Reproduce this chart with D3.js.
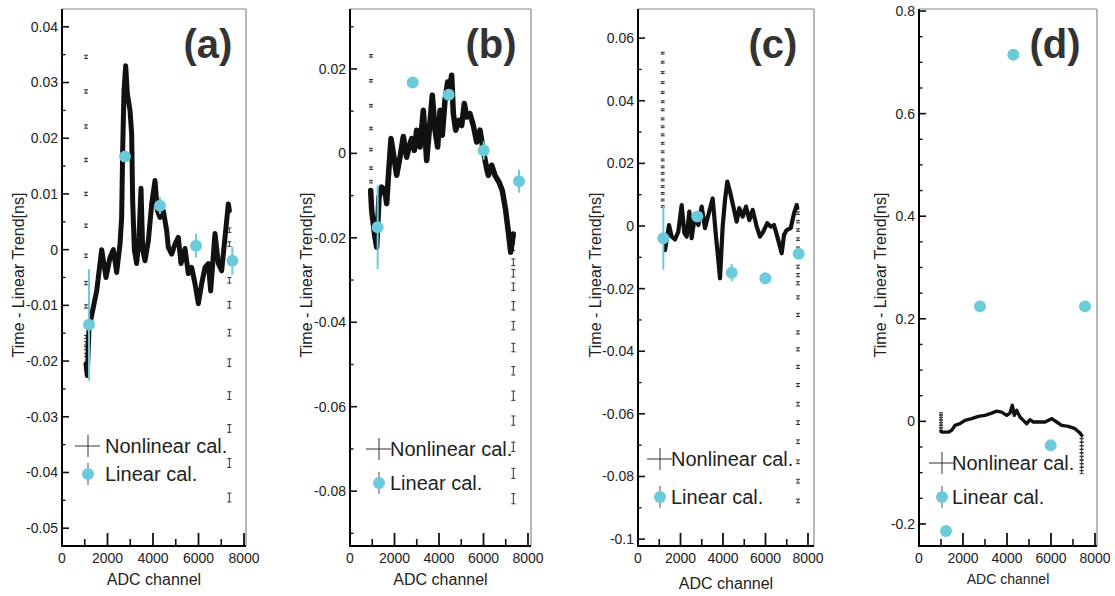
<!DOCTYPE html>
<html>
<head>
<meta charset="utf-8">
<script src="https://cdn.jsdelivr.net/npm/d3@7"></script>
<style>
  body { margin: 0; background: #fff; }
  svg { display: block; font-family: "Liberation Sans", Arial, sans-serif; }
</style>
</head>
<body>
<svg width="1115" height="596"></svg>
<script>
// ---- data: [ADC channel, time - linear trend (ns)] ----
const nonlinA = [[1055,-0.0205],[1110,-0.0226],[1187,-0.0140],[1230,-0.0133],[1525,-0.0074],[1745,0.0],[1934,-0.005],[2110,-0.0014],
  [2256,0.0],[2403,-0.0041],[2550,0.001],[2622,0.0058],[2667,0.0178],[2725,0.0285],[2799,0.033],[2872,0.028],[2989,0.025],
  [3062,0.0208],[3106,0.0088],[3180,0.0],[3282,-0.0025],[3385,0.0022],[3473,0.011],[3546,0.0],[3648,-0.002],[3795,0.0016],
  [3942,0.0082],[4088,0.0124],[4190,0.007],[4308,0.0058],[4454,0.007],[4601,0.0034],[4674,0.0004],[4821,-0.0008],[4967,0.001],
  [5114,0.0022],[5231,-0.0025],[5407,0.0002],[5553,-0.0043],[5700,-0.0032],[5846,-0.0061],[5993,-0.0097],[6140,-0.0061],
  [6286,-0.0032],[6432,-0.0025],[6535,-0.0074],[6725,0.0029],[6871,-0.0025],[7018,-0.0038],[7165,0.0022],[7311,0.0082],[7355,0.007]];
const nonlinB = [[929,-0.0088],[974,-0.0135],[1124,-0.0199],[1198,-0.0222],[1303,-0.0104],[1423,-0.008],[1573,-0.0088],[1648,-0.0119],
  [1723,-0.0056],[1843,0.0035],[1948,0.0],[2097,-0.0052],[2247,-0.0009],[2397,0.004],[2547,-0.0009],[2652,0.0015],[2772,0.0035],
  [2891,0.0007],[2996,0.0055],[3146,0.0015],[3296,0.0102],[3446,-0.0017],[3551,0.0047],[3700,0.0138],[3820,0.0055],[3940,0.0015],
  [4045,0.0102],[4149,0.0043],[4270,0.0126],[4390,0.0169],[4464,0.015],[4569,0.0185],[4644,0.0094],[4750,0.0055],[4899,0.0078],
  [5019,0.0066],[5138,0.0118],[5243,0.0086],[5393,0.0094],[5543,0.0066],[5693,0.0027],[5843,0.0055],[5991,0.0007],[6142,-0.0036],
  [6217,-0.0052],[6367,-0.0028],[6517,-0.0052],[6697,-0.0068],[6845,-0.0088],[6997,-0.0135],[7146,-0.0199],[7222,-0.0234],[7340,-0.0191]];
const nonlinC = [[1271,-0.0077],[1349,-0.0045],[1459,0.0003],[1584,-0.0034],[1741,-0.0043],[1898,-0.0018],[2055,0.0067],[2180,-0.0023],
  [2290,-0.0034],[2415,0.0046],[2525,-0.0039],[2682,0.0035],[2839,0.0003],[2996,0.0062],[3153,-0.0007],[3310,0.0035],[3514,0.0088],
  [3671,-0.0034],[3780,-0.0109],[3859,-0.0167],[3984,-0.0002],[4094,0.0083],[4202,0.0142],[4329,0.011],[4486,0.0062],[4643,0.0014],
  [4767,0.0057],[4927,0.003],[5082,0.0062],[5238,0.0019],[5398,0.0051],[5586,-0.0002],[5741,-0.0034],[5896,-0.0018],[6084,0.0009],
  [6244,-0.0002],[6400,0.0003],[6555,-0.0034],[6762,-0.0087],[6871,-0.0029],[6997,-0.0013],[7185,-0.0007],[7341,0.004],[7467,0.0067],[7497,0.0057]];
const nonlinD = [[1000,-0.02],[1061,-0.021],[1333,-0.021],[1485,-0.0175],[1636,-0.0078],[1864,-0.0045],[2091,0.002],[2394,0.0052],
  [2697,0.0097],[3000,0.0117],[3303,0.0162],[3530,0.02],[3757,0.018],[3985,0.0117],[4136,0.0162],[4242,0.0312],[4333,0.0117],
  [4439,0.0214],[4591,0.0084],[4742,0.002],[4894,-0.0045],[5045,0.0033],[5197,-0.0013],[5424,-0.0013],[5727,-0.0013],[6030,0.0052],
  [6258,-0.0013],[6485,-0.0078],[6788,-0.0097],[7091,-0.0143],[7318,-0.0227],[7394,-0.0273]];

// nonlinear points at the ends of the range: [ADC, value, error]
const edgeA = [[1055,0.0346,0.0003],[1055,0.0284,0.0003],[1055,0.0221,0.0003],[1055,0.0161,0.0003],[1055,0.0100,0.0003],
  [1055,0.0043,0.0003],[1055,-0.0011,0.0003],[1055,-0.0060,0.0003],[1055,-0.0102,0.0003],[1055,-0.0157,0.0003],[1055,-0.0168,0.0003],
  [1055,-0.0177,0.0003],[1055,-0.0189,0.0003],
  [7355,0.0035,0.0004],[7355,0.001,0.0004],[7355,-0.0055,0.0005],[7355,-0.0099,0.0006],[7355,-0.0149,0.0006],[7355,-0.0203,0.0007],
  [7355,-0.0262,0.0007],[7355,-0.0321,0.0007],[7355,-0.0383,0.0008],[7355,-0.0445,0.0008]];
const edgeB = [[944,0.0231,0.0003],[944,0.0172,0.0003],[944,0.0113,0.0003],[944,0.0059,0.0003],[944,0.0009,0.0003],[944,-0.0035,0.0003],
  [944,-0.0067,0.0003],[944,-0.0092,0.0003],
  [7340,-0.0222,0.0008],[7340,-0.0258,0.0008],[7340,-0.0284,0.0009],[7340,-0.0316,0.0009],[7340,-0.0361,0.001],[7340,-0.0408,0.001],
  [7340,-0.046,0.001],[7340,-0.0515,0.001],[7340,-0.0574,0.0011],[7340,-0.0633,0.0011],[7340,-0.0695,0.0011],[7340,-0.0758,0.0012],[7340,-0.0818,0.0012]];
const edgeC = [[1161,0.0552,0.0003],[1161,0.0523,0.0003],[1161,0.049,0.0003],[1161,0.0458,0.0003],[1161,0.0426,0.0003],[1161,0.0397,0.0003],
  [1161,0.0371,0.0003],[1161,0.0342,0.0003],[1161,0.0317,0.0003],[1161,0.0291,0.0003],[1161,0.0264,0.0003],[1161,0.0237,0.0003],
  [1161,0.0211,0.0003],[1161,0.0189,0.0003],[1161,0.0168,0.0003],[1161,0.0147,0.0003],[1161,0.0126,0.0003],[1161,0.0104,0.0003],
  [1161,0.0083,0.0003],[1161,0.0062,0.0003],
  [7529,0.0041,0.0004],[7529,0.0014,0.0004],[7529,-0.0013,0.0004],[7529,-0.0042,0.0004],[7529,-0.0071,0.0004],[7529,-0.0098,0.0004],
  [7529,-0.013,0.0005],[7529,-0.0157,0.0005],[7529,-0.0183,0.0005],[7529,-0.0228,0.0005],[7529,-0.0284,0.0005],[7529,-0.034,0.0005],
  [7529,-0.0394,0.0005],[7529,-0.045,0.0005],[7529,-0.0508,0.0005],[7529,-0.0569,0.0006],[7529,-0.0628,0.0006],[7529,-0.0689,0.0006],
  [7529,-0.0753,0.0006],[7529,-0.0815,0.0006],[7529,-0.0878,0.0006]];
const edgeD = [[1000,0.015,0.002],[1000,0.01,0.002],[1000,0.005,0.002],[1000,0.0,0.002],[1000,-0.005,0.002],[1000,-0.01,0.002],[1000,-0.015,0.002],
  [7394,-0.03,0.003],[7394,-0.037,0.003],[7394,-0.044,0.003],[7394,-0.051,0.003],[7394,-0.058,0.003],[7394,-0.065,0.003],
  [7394,-0.072,0.003],[7394,-0.079,0.003],[7394,-0.086,0.003],[7394,-0.093,0.003],[7394,-0.099,0.003]];

// linear calibration: [ADC, value, error]
const linearA = [[1187,-0.0135,0.0100],[2769,0.0167,0.0005],[4308,0.0079,0.0015],[5890,0.0007,0.0021],[7487,-0.002,0.0025]];
const linearB = [[1243,-0.0175,0.0099],[2816,0.0168,0.0003],[4434,0.0139,0.0008],[6008,0.0007,0.0022],[7595,-0.0066,0.0027]];
const linearC = [[1192,-0.0039,0.0101],[2792,0.003,0.0008],[4408,-0.0149,0.0028],[5992,-0.0167,0.0005],[7561,-0.0089,0.0005]];
const linearD = [[1227,-0.2138,0.002],[2773,0.2242,0.002],[4288,0.7148,0.002],[5986,-0.0468,0.002],[7545,0.2242,0.002]];

// axis ticks
const xTickLabels = [0, 2000, 4000, 6000, 8000];
const xMinorTicks = [1000, 3000, 5000, 7000];
const yTicksA = [-0.05, -0.04, -0.03, -0.02, -0.01, 0, 0.01, 0.02, 0.03, 0.04];
const yTicksB = [-0.08, -0.06, -0.04, -0.02, 0, 0.02];
const yTicksC = [-0.1, -0.08, -0.06, -0.04, -0.02, 0, 0.02, 0.04, 0.06];
const yTicksD = [-0.2, 0, 0.2, 0.4, 0.6, 0.8];
const panelLabels = ["(a)", "(b)", "(c)", "(d)"];
const legendLabels = ["Nonlinear cal.", "Linear cal."];

const cyan = "#6bcbdb";
const svg = d3.select("svg");

const panels = [
  { label: panelLabels[0], nonlin: nonlinA, edges: edgeA, linear: linearA, yTicks: yTicksA, minorStep: 0.005,
    left: 62, right: 246, x8000: 244, yDomain: [-0.0532, 0.0432], lineW: 5,
    titleX: 18, xTitleY: 585, labelX: 208, legX: 88, legTextX: 105, legY: [446, 474], xTitleSize: 16 },
  { label: panelLabels[1], nonlin: nonlinB, edges: edgeB, linear: linearB, yTicks: yTicksB, minorStep: 0.01,
    left: 350, right: 531, x8000: 528, yDomain: [-0.093, 0.0342], lineW: 5.5,
    titleX: 306, xTitleY: 585, labelX: 491, legX: 379, legTextX: 390, legY: [449, 483], xTitleSize: 16 },
  { label: panelLabels[2], nonlin: nonlinC, edges: edgeC, linear: linearC, yTicks: yTicksC, minorStep: 0.01,
    left: 638, right: 814, x8000: 808, yDomain: [-0.1022, 0.0693], lineW: 4.2,
    titleX: 595, xTitleY: 589, labelX: 773, legX: 660, legTextX: 671, legY: [459, 497], xTitleSize: 16 },
  { label: panelLabels[3], nonlin: nonlinD, edges: edgeD, linear: linearD, yTicks: yTicksD, minorStep: 0.05,
    left: 919, right: 1097, x8000: 1095, yDomain: [-0.243, 0.804], lineW: 3.4,
    titleX: 880, xTitleY: 584, labelX: 1055, legX: 942, legTextX: 952, legY: [463, 497], xTitleSize: 14 }
];

const plotTop = 9, plotBottom = 546;

panels.forEach(p => {
  const x = d3.scaleLinear().domain([0, 8000]).range([p.left, p.x8000]);
  const y = d3.scaleLinear().domain(p.yDomain).range([plotBottom, plotTop]);
  const g = svg.append("g");

  // frame: top/right thin grey, left/bottom black
  g.append("line").attr("x1", p.left).attr("x2", p.right).attr("y1", plotTop).attr("y2", plotTop)
    .attr("stroke", "#888").attr("stroke-width", 1);
  g.append("line").attr("x1", p.right).attr("x2", p.right).attr("y1", plotTop).attr("y2", plotBottom)
    .attr("stroke", "#888").attr("stroke-width", 1.2);

  // y ticks (pointing inward)
  const minor = d3.range(Math.ceil(p.yDomain[0] / p.minorStep) * p.minorStep, p.yDomain[1], p.minorStep)
    .filter(v => !p.yTicks.some(t => Math.abs(t - v) < 1e-9));
  g.selectAll(".ymin").data(minor).join("line")
    .attr("x1", p.left).attr("x2", p.left + 3.5).attr("y1", d => y(d)).attr("y2", d => y(d))
    .attr("stroke", "#111").attr("stroke-width", 1.4);
  g.selectAll(".ymaj").data(p.yTicks).join("line")
    .attr("x1", p.left).attr("x2", p.left + 7).attr("y1", d => y(d)).attr("y2", d => y(d))
    .attr("stroke", "#111").attr("stroke-width", 1.6);
  g.selectAll(".ylab").data(p.yTicks).join("text")
    .attr("x", p.left - 4).attr("y", d => y(d)).attr("dy", "0.35em")
    .attr("text-anchor", "end").attr("font-size", 14).attr("fill", "#222")
    .text(d => String(+d.toFixed(4)));

  // x ticks (pointing inward)
  g.selectAll(".xmin").data(xMinorTicks).join("line")
    .attr("x1", d => x(d)).attr("x2", d => x(d)).attr("y1", plotBottom).attr("y2", plotBottom - 7)
    .attr("stroke", "#111").attr("stroke-width", 1.6);
  g.selectAll(".xmaj").data(xTickLabels.slice(1)).join("line")
    .attr("x1", d => x(d)).attr("x2", d => x(d)).attr("y1", plotBottom).attr("y2", plotBottom - 13)
    .attr("stroke", "#111").attr("stroke-width", 1.8);
  g.selectAll(".xlab").data(xTickLabels).join("text")
    .attr("x", d => x(d)).attr("y", 563)
    .attr("text-anchor", "middle").attr("font-size", 14).attr("fill", "#222")
    .text(d => d);

  // axis lines
  g.append("line").attr("x1", p.left).attr("x2", p.left).attr("y1", plotTop).attr("y2", plotBottom + 1)
    .attr("stroke", "#000").attr("stroke-width", 2);
  g.append("line").attr("x1", p.left - 1).attr("x2", p.right).attr("y1", plotBottom).attr("y2", plotBottom)
    .attr("stroke", "#000").attr("stroke-width", 2);

  // axis titles
  g.append("text").attr("x", (p.left + p.right) / 2).attr("y", p.xTitleY)
    .attr("text-anchor", "middle").attr("font-size", p.xTitleSize).attr("fill", "#222")
    .text("ADC channel");
  g.append("text").attr("transform", `translate(${p.titleX},275) rotate(-90)`)
    .attr("text-anchor", "middle").attr("dy", "0.35em").attr("font-size", 16).attr("fill", "#222")
    .text("Time - Linear Trend[ns]");

  // panel label
  g.append("text").attr("x", p.labelX).attr("y", 58)
    .attr("text-anchor", "middle").attr("font-size", 40).attr("font-weight", "bold").attr("fill", "#333")
    .text(p.label);

  // nonlinear edge points with small error bars
  const eg = g.append("g").attr("stroke", "#333").attr("stroke-width", 1);
  p.edges.forEach(([a, v, e]) => {
    const xx = x(a), y1 = y(v + e), y2 = y(v - e);
    eg.append("line").attr("x1", xx).attr("x2", xx).attr("y1", y1).attr("y2", y2);
    eg.append("line").attr("x1", xx - 2).attr("x2", xx + 2).attr("y1", y1).attr("y2", y1);
    eg.append("line").attr("x1", xx - 2).attr("x2", xx + 2).attr("y1", y2).attr("y2", y2);
  });

  // nonlinear curve
  g.append("path").datum(p.nonlin)
    .attr("d", d3.line().x(d => x(d[0])).y(d => y(d[1])))
    .attr("fill", "none").attr("stroke", "#111").attr("stroke-width", p.lineW)
    .attr("stroke-linejoin", "round").attr("stroke-linecap", "round");

  // linear calibration points
  g.selectAll(".lerr").data(p.linear).join("line")
    .attr("x1", d => x(d[0])).attr("x2", d => x(d[0]))
    .attr("y1", d => y(d[1] + d[2])).attr("y2", d => y(d[1] - d[2]))
    .attr("stroke", cyan).attr("stroke-width", 2);
  g.selectAll(".ldot").data(p.linear).join("circle")
    .attr("cx", d => x(d[0])).attr("cy", d => y(d[1])).attr("r", 6)
    .attr("fill", cyan);

  // legend
  const lx = p.legX, [ly1, ly2] = p.legY;
  g.append("line").attr("x1", lx - 13).attr("x2", lx + 12).attr("y1", ly1).attr("y2", ly1).attr("stroke", "#333").attr("stroke-width", 1);
  g.append("line").attr("x1", lx).attr("x2", lx).attr("y1", ly1 - 11).attr("y2", ly1 + 11).attr("stroke", "#333").attr("stroke-width", 1);
  g.append("line").attr("x1", lx).attr("x2", lx).attr("y1", ly2 - 11).attr("y2", ly2 + 11).attr("stroke", "#555").attr("stroke-width", 1);
  g.append("circle").attr("cx", lx).attr("cy", ly2).attr("r", 6).attr("fill", cyan);
  g.selectAll(".legt").data(legendLabels).join("text")
    .attr("x", p.legTextX).attr("y", (d, i) => i ? ly2 : ly1).attr("dy", "0.35em")
    .attr("font-size", 20).attr("fill", "#222")
    .text(d => d);
});
</script>
</body>
</html>
